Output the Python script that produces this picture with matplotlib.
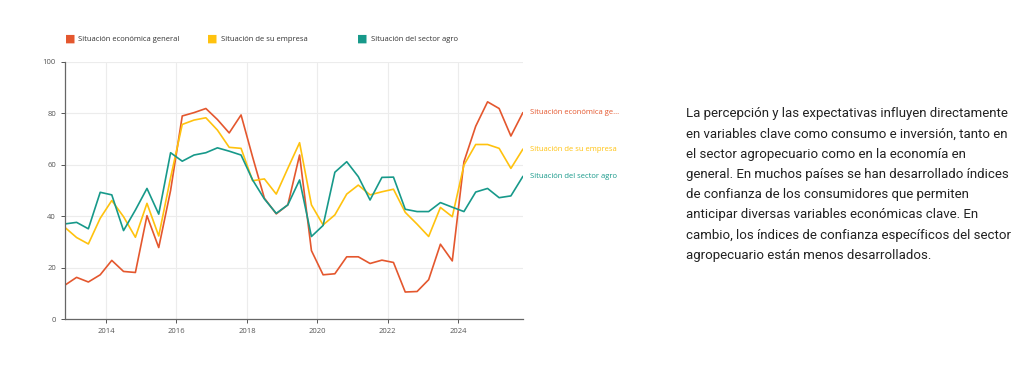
import matplotlib
matplotlib.use('Agg')
import matplotlib.pyplot as plt
import matplotlib.dates as mdates
import pandas as pd

# encuesta cada 4 meses, nov 2012 - nov 2025
fechas = pd.date_range('2012-11-01', periods=40, freq='4MS')

economica = [13.2, 16.2, 14.4, 17.2, 22.8, 18.5, 18.1, 40.2, 27.8, 50.0,
             79.0, 80.3, 81.9, 77.6, 72.4, 79.4, 63.0, 47.0, 40.9, 44.4,
             63.8, 26.6, 17.2, 17.6, 24.2, 24.2, 21.6, 22.9, 22.0, 10.5,
             10.7, 15.3, 29.1, 22.6, 61.2, 75.0, 84.5, 81.9, 71.2, 80.2]
empresa = [35.6, 31.7, 29.2, 39.2, 46.1, 39.8, 31.8, 45.0, 32.3, 55.0,
           75.7, 77.4, 78.3, 73.5, 66.8, 66.4, 53.8, 54.5, 48.6, 58.6,
           68.6, 44.4, 36.6, 40.5, 48.6, 52.1, 48.3, 49.5, 50.5, 41.5,
           36.9, 32.1, 43.4, 39.8, 59.9, 67.9, 67.9, 66.4, 58.6, 66.0]
sector = [37.0, 37.6, 35.1, 49.3, 48.3, 34.4, 42.4, 50.8, 40.8, 64.7,
          61.4, 63.8, 64.7, 66.6, 65.3, 63.8, 54.1, 46.7, 41.1, 44.4,
          54.1, 32.1, 36.4, 57.1, 61.2, 55.4, 46.3, 55.1, 55.2, 42.7,
          41.8, 41.8, 45.3, 43.5, 41.8, 49.4, 50.8, 47.2, 47.9, 55.4]

series = ['Situación económica general', 'Situación de su empresa', 'Situación del sector agro']
etiquetas = ['Situación económica ge...', 'Situación de su empresa', 'Situación del sector agro']
colores = ['#E4572E', '#FFC20E', '#17998A']

texto = ("La percepción y las expectativas influyen directamente\n"
         "en variables clave como consumo e inversión, tanto en\n"
         "el sector agropecuario como en la economía en\n"
         "general. En muchos países se han desarrollado índices\n"
         "de confianza de los consumidores que permiten\n"
         "anticipar diversas variables económicas clave. En\n"
         "cambio, los índices de confianza específicos del sector\n"
         "agropecuario están menos desarrollados.")

plt.rcParams['font.family'] = ['Open Sans', 'DejaVu Sans']

fig = plt.figure(figsize=(10.24, 3.69), dpi=100)
ax = fig.add_axes([0.0635, 0.1355, 0.447, 0.6965])

for vals, col, lab in zip([economica, empresa, sector], colores, etiquetas):
    ax.plot(fechas, vals, color=col, lw=1.2)
    ax.annotate(lab, xy=(fechas[-1], vals[-1]), xytext=(5, 0), textcoords='offset points',
                color=col, fontsize=5.5, va='center', ha='left', annotation_clip=False)

ax.set_ylim(0, 100)
ax.set_xlim(fechas[0], fechas[-1])
ax.set_yticks([0, 20, 40, 60, 80, 100])
ax.xaxis.set_major_locator(mdates.YearLocator(2))
ax.xaxis.set_major_formatter(mdates.DateFormatter('%Y'))
ax.grid(True, color='#ececec', lw=0.8)
ax.set_axisbelow(True)
for s in ['top', 'right']:
    ax.spines[s].set_visible(False)
for s in ['left', 'bottom']:
    ax.spines[s].set_color('#666666')
    ax.spines[s].set_linewidth(0.9)
ax.tick_params(labelsize=5.5, colors='#555555', length=3, width=0.7)

# leyenda arriba
for i, (nombre, col) in enumerate(zip(series, colores)):
    x0 = [0.063, 0.202, 0.349][i]
    fig.text(x0, 0.893, '■', color=col, fontsize=8, va='center', ha='left')
    fig.text(x0 + 0.0135, 0.893, nombre, color='#333333', fontsize=5.5, va='center', ha='left')

fig.text(0.670, 0.709, texto, fontsize=9.5, family='Roboto', color='#222222',
         va='top', ha='left', linespacing=1.72)

fig.savefig('out.png', dpi=100)
